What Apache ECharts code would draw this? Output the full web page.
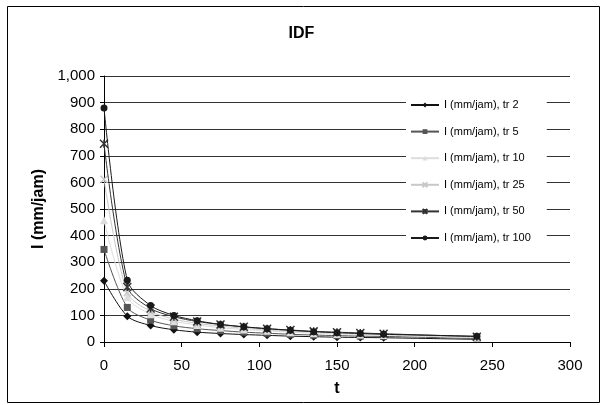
<!DOCTYPE html>
<html><head><meta charset="utf-8">
<script src="https://cdn.jsdelivr.net/npm/echarts@6/dist/echarts.min.js"></script>
<style>html,body{margin:0;padding:0;background:#fff}#c{width:603px;height:405px}</style>
</head><body><div id="c"></div>
<script>
var tValues = [0, 15, 30, 45, 60, 75, 90, 105, 120, 135, 150, 165, 180, 240];
var tr2   = [230, 97, 62, 46, 37, 32, 28, 25, 22, 20, 18, 17, 16, 10];
var tr5   = [348, 130, 82, 61, 50, 43, 37, 33, 29, 26, 24, 22, 21, 13];
var tr10  = [458, 168, 104, 78, 64, 54, 47, 42, 37, 33, 30, 28, 26, 16];
var tr25  = [612, 185, 115, 86, 70, 60, 52, 46, 41, 37, 34, 31, 29, 18];
var tr50  = [745, 207, 126, 95, 77, 66, 57, 50, 45, 40, 37, 34, 31, 20];
var tr100 = [880, 232, 137, 100, 80, 66, 57, 50, 44, 39, 35, 32, 29, 22];
var seriesNames = ['I (mm/jam), tr 2','I (mm/jam), tr 5','I (mm/jam), tr 10','I (mm/jam), tr 25','I (mm/jam), tr 50','I (mm/jam), tr 100'];
var seriesData = [tr2, tr5, tr10, tr25, tr50, tr100];
var colors = ['#111111','#555555','#dddddd','#c8c8c8','#333333','#1a1a1a'];
var symbols = ['diamond','rect','triangle',
  'path://M0,0L10,10M10,0L0,10',
  'path://M0,0L10,10M10,0L0,10M5,0L5,10',
  'circle'];
var sizes = [8,7,8,7,8,7];

var chart = echarts.init(document.getElementById('c'));
var series = seriesData.map(function(d, i){
  var cross = (i === 3 || i === 4);
  return {
    name: seriesNames[i], type: 'line', smooth: 0.3,
    data: tValues.map(function(t, j){ return [t, d[j]]; }),
    symbol: symbols[i], symbolSize: sizes[i],
    lineStyle: {color: colors[i], width: 1},
    itemStyle: {color: colors[i], borderColor: colors[i], borderWidth: cross ? 1.5 : 0},
    z: 10 + i
  };
});
chart.setOption({
  animation: false,
  backgroundColor: '#fff',
  title: {text: 'IDF', left: 'center', top: 21,
    textStyle: {fontFamily: 'Liberation Sans', fontSize: 16, fontWeight: 'bold', color: '#000'}},
  grid: {left: 104, right: 33, top: 76, bottom: 63},
  legend: {
    orient: 'vertical', left: 406, top: 97,
    backgroundColor: '#fff', padding: [2, 16, 2, 4],
    itemWidth: 28, itemHeight: 6, itemGap: 14.6,
    textStyle: {fontFamily: 'Liberation Sans', fontSize: 11, color: '#000', lineHeight: 12},
    data: seriesNames
  },
  xAxis: {
    type: 'value', min: 0, max: 300, interval: 50,
    name: 't', nameLocation: 'middle', nameGap: 39,
    nameTextStyle: {fontFamily: 'Liberation Sans', fontSize: 16, fontWeight: 'bold', color: '#000'},
    axisLine: {lineStyle: {color: '#000', width: 1}},
    axisTick: {show: true, inside: false, length: 5, lineStyle: {color: '#000'}},
    axisLabel: {fontFamily: 'Liberation Sans', fontSize: 15, color: '#000', margin: 16},
    splitLine: {show: false}
  },
  yAxis: {
    type: 'value', min: 0, max: 1000, interval: 100,
    name: 'I (mm/jam)', nameLocation: 'middle', nameGap: 47, nameRotate: 90,
    nameTextStyle: {fontFamily: 'Liberation Sans', fontSize: 16, fontWeight: 'bold', color: '#000'},
    axisLine: {show: true, lineStyle: {color: '#000', width: 1}},
    axisTick: {show: true, inside: false, length: 4, lineStyle: {color: '#000'}},
    axisLabel: {fontFamily: 'Liberation Sans', fontSize: 15, color: '#000', margin: 9,
      formatter: function(v){ return v.toLocaleString('en-US'); }},
    splitLine: {show: true, lineStyle: {color: '#333', width: 1}}
  },
  graphic: [{
    type: 'rect', left: 5, top: 4, z: -10,
    shape: {width: 592, height: 396},
    style: {fill: 'none', stroke: '#000', lineWidth: 1}
  }],
  series: series
});
</script></body></html>
